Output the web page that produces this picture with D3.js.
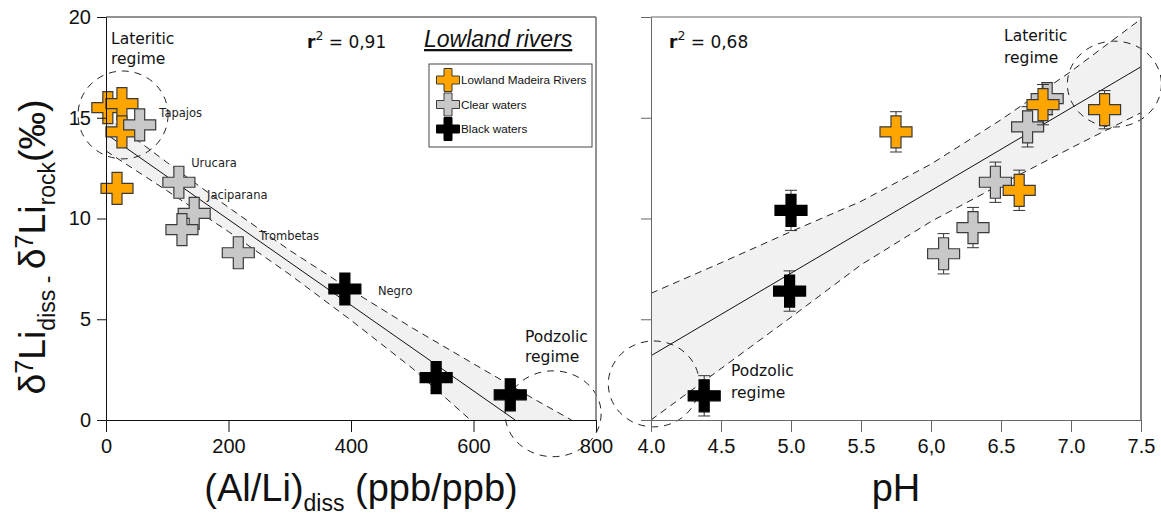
<!DOCTYPE html>
<html>
<head>
<meta charset="utf-8">
<script src="https://cdn.jsdelivr.net/npm/d3@7"></script>
<style>
  body { margin: 0; background: #fff; }
  svg { display: block; }
</style>
</head>
<body>
<svg id="chart" width="1161" height="518"></svg>
<script>
// ---- data: left panel, (Al/Li)diss vs d7Li ----
const alLiMadeira = [3, 26, 26, 18];
const d7LiMadeiraA = [15.5, 15.7, 14.3, 11.5];
const alLiClear = [55, 119, 144, 124, 216];
const d7LiClearA = [14.65, 11.8, 10.25, 9.45, 8.3];
const alLiBlack = [390, 539, 660];
const d7LiBlackA = [6.5, 2.1, 1.25];

// river names, placed in data units of the left panel
const riverNames = ["Tapajos", "Urucara", "Jaciparana", "Trombetas", "Negro"];
const riverNameX = [87, 139, 165, 250, 444];
const riverNameY = [15.05, 12.55, 10.95, 8.95, 6.2];

// regression line and confidence band (left)
const fitAX = [0, 668];
const fitAY = [14.2, 0];
const upperAX = [0, 100, 200, 300, 400, 500, 600, 700, 760];
const upperAY = [15.05, 12.77, 10.55, 8.42, 6.45, 4.57, 2.79, 1.02, 0];
const lowerAX = [0, 100, 200, 300, 400, 500, 595];
const lowerAY = [13.35, 11.37, 9.35, 7.22, 4.95, 2.57, 0];

// ---- data: right panel, pH vs d7Li ----
const phMadeira = [5.75, 6.80, 7.24, 6.63];
const d7LiMadeiraB = [14.3, 15.65, 15.4, 11.4];
const errMadeira = [1.0, 1.0, 0.95, 1.0];
const phClear = [6.83, 6.69, 6.46, 6.30, 6.09];
const d7LiClearB = [15.95, 14.55, 11.8, 9.55, 8.25];
const errClear = [0.8, 1.0, 1.0, 1.0, 1.0];
const phBlack = [5.0, 4.99, 4.38];
const d7LiBlackB = [10.4, 6.4, 1.2];
const errBlack = [1.0, 1.0, 1.0];

const fitBX = [4.0, 7.5];
const fitBY = [3.19, 17.53];
const upperBX = [4.0, 4.5, 5.0, 5.5, 6.0, 6.5, 7.0, 7.5];
const upperBY = [6.29, 7.8, 9.35, 10.85, 12.7, 14.9, 17.3, 19.9];
const lowerBX = [4.0, 4.5, 5.0, 5.5, 6.0, 6.5, 7.0, 7.5];
const lowerBY = [0, 2.55, 5.1, 7.7, 9.85, 11.7, 13.5, 15.25];

// ---- ticks ----
const yTicks = [0, 5, 10, 15, 20];
const alLiTicks = [0, 200, 400, 600, 800];
const phTicks = [4.0, 4.5, 5.0, 5.5, 6.0, 6.5, 7.0, 7.5];
const phTickLabels = ["4.0", "4.5", "5.0", "5.5", "6,0", "6.5", "7.0", "7.5"];

const groups = ["Lowland Madeira Rivers", "Clear waters", "Black waters"];
const groupFill = ["#ffa500", "#c8c8c8", "#000000"];
const groupStroke = ["#3a3a3a", "#3a3a3a", "#000000"];

const svg = d3.select("#chart");
svg.append("rect").attr("width", 1161).attr("height", 518).attr("fill", "#fff");

const sans = "'Liberation Sans', Arial, sans-serif";
const humanist = "'DejaVu Sans', sans-serif";

const y = d3.scaleLinear().domain([0, 20]).range([420, 17]);
const xA = d3.scaleLinear().domain([0, 800]).range([106, 596]);
const xB = d3.scaleLinear().domain([4.0, 7.5]).range([651, 1141]);

function crossPath(s, a) {
    const h = s / 2;
    return `M${-a},${-h}H${a}V${-a}H${h}V${a}H${a}V${h}H${-a}V${a}H${-h}V${-a}H${-a}Z`;
}

const zip = (xs, ys) => xs.map((v, i) => [v, ys[i]]);

// clip paths
const defs = svg.append("defs");
defs.append("clipPath").attr("id", "clipA").append("rect")
    .attr("x", xA(0)).attr("y", y(20)).attr("width", xA(800) - xA(0)).attr("height", y(0) - y(20));
defs.append("clipPath").attr("id", "clipB").append("rect")
    .attr("x", xB(4)).attr("y", y(20)).attr("width", xB(7.5) - xB(4)).attr("height", y(0) - y(20));

function drawBand(g, x, clip, ux, uy, lx, ly, fx, fy) {
    const line = d3.line().x(d => x(d[0])).y(d => y(d[1]));
    const up = zip(ux, uy), lo = zip(lx, ly);
    const band = g.append("g").attr("clip-path", `url(#${clip})`);
    band.append("path")
        .attr("d", line(up.concat(lo.slice().reverse())) + "Z")
        .attr("fill", "#f1f1f1");
    [up, lo].forEach(pts => band.append("path")
        .attr("d", line(pts))
        .attr("fill", "none")
        .attr("stroke", "#222")
        .attr("stroke-width", 1)
        .attr("stroke-dasharray", "7,5"));
    band.append("path")
        .attr("d", line(zip(fx, fy)))
        .attr("fill", "none")
        .attr("stroke", "#111")
        .attr("stroke-width", 1);
}

function drawEllipse(g, x, cx, cy, rx, ry) {
    g.append("ellipse")
        .attr("cx", x(cx)).attr("cy", y(cy))
        .attr("rx", Math.abs(x(cx + rx) - x(cx)))
        .attr("ry", Math.abs(y(cy + ry) - y(cy)))
        .attr("fill", "none")
        .attr("stroke", "#222")
        .attr("stroke-width", 1)
        .attr("stroke-dasharray", "7,6");
}

function drawCrosses(g, x, xs, ys, gi, size, arm) {
    g.selectAll(null)
        .data(zip(xs, ys))
        .enter()
        .append("path")
        .attr("d", crossPath(size, arm))
        .attr("transform", d => `translate(${x(d[0])},${y(d[1])})`)
        .attr("fill", groupFill[gi])
        .attr("stroke", groupStroke[gi])
        .attr("stroke-width", 1.2);
}

function drawErrors(g, x, xs, ys, es) {
    const eb = g.selectAll(null)
        .data(xs.map((v, i) => ({x: v, y: ys[i], e: es[i]})))
        .enter()
        .append("g")
        .attr("stroke", "#333")
        .attr("stroke-width", 1);
    eb.append("line")
        .attr("x1", d => x(d.x)).attr("x2", d => x(d.x))
        .attr("y1", d => y(d.y - d.e)).attr("y2", d => y(d.y + d.e));
    [-1, 1].forEach(sgn => eb.append("line")
        .attr("x1", d => x(d.x) - 6).attr("x2", d => x(d.x) + 6)
        .attr("y1", d => y(d.y + sgn * d.e)).attr("y2", d => y(d.y + sgn * d.e)));
}

function twoLines(g, x0, y0, l1, l2, size, gap) {
    const t = g.append("text")
        .attr("x", x0).attr("y", y0)
        .style("font-family", humanist)
        .style("font-size", size + "px")
        .attr("fill", "#111");
    t.append("tspan").attr("x", x0).text(l1);
    t.append("tspan").attr("x", x0).attr("dy", gap).text(l2);
}

function rSquared(g, x0, y0, val) {
    const t = g.append("text")
        .attr("x", x0).attr("y", y0)
        .style("font-family", humanist)
        .style("font-size", "17px")
        .attr("fill", "#111");
    t.append("tspan").style("font-weight", "bold").text("r");
    t.append("tspan").style("font-size", "12.5px").attr("dy", -8).text("2");
    t.append("tspan").attr("dy", 8).text(" = " + val);
}

// ================= left panel =================
const gA = svg.append("g");
drawBand(gA, xA, "clipA", upperAX, upperAY, lowerAX, lowerAY, fitAX, fitAY);
drawEllipse(gA, xA, 27.8, 15.14, 73.5, 2.18);
drawEllipse(gA, xA, 730, 0.31, 78.4, 2.13);

drawCrosses(gA, xA, alLiMadeira, d7LiMadeiraA, 0, 32, 5);
drawCrosses(gA, xA, alLiClear, d7LiClearA, 1, 32, 5);
drawCrosses(gA, xA, alLiBlack, d7LiBlackA, 2, 32, 5);

gA.selectAll(null)
    .data(riverNames)
    .enter()
    .append("text")
    .attr("x", (d, i) => xA(riverNameX[i]))
    .attr("y", (d, i) => y(riverNameY[i]))
    .style("font-family", humanist)
    .style("font-size", "11.5px")
    .attr("fill", "#222")
    .text(d => d);

// axes left
const axA_y = gA.append("g")
    .attr("transform", `translate(${xA(0)},0)`)
    .call(d3.axisLeft(y).tickValues(yTicks).tickSize(9).tickSizeOuter(0).tickPadding(6));
const axA_x = gA.append("g")
    .attr("transform", `translate(0,${y(0)})`)
    .call(d3.axisBottom(xA).tickValues(alLiTicks).tickSize(12).tickSizeOuter(0).tickPadding(6));
[axA_y, axA_x].forEach(a => {
    a.selectAll("text").style("font-family", sans).style("font-size", "20px").attr("fill", "#111");
    a.selectAll("line, path").attr("stroke", "#111");
});
axA_x.selectAll("text").attr("dy", "0.75em");
// frame top / right
gA.append("line").attr("x1", xA(0)).attr("x2", xA(800)).attr("y1", y(20)).attr("y2", y(20))
    .attr("stroke", "#222").attr("stroke-width", 1);
gA.append("line").attr("x1", xA(800)).attr("x2", xA(800)).attr("y1", y(20)).attr("y2", y(0))
    .attr("stroke", "#777").attr("stroke-width", 1.6);

twoLines(gA, 111, 44, "Lateritic", "regime", 15.5, 20);
twoLines(gA, 525, 342, "Podzolic", "regime", 15.5, 20);
rSquared(gA, 307, 48, "0,91");

gA.append("text")
    .attr("x", 424).attr("y", 47)
    .style("font-family", sans)
    .style("font-size", "23px")
    .style("font-style", "italic")
    .style("text-decoration", "underline")
    .attr("fill", "#111")
    .text("Lowland rivers");

// legend
const leg = gA.append("g");
leg.append("rect").attr("x", 429).attr("y", 64).attr("width", 163).attr("height", 83)
    .attr("fill", "#fff").attr("stroke", "#444").attr("stroke-width", 1);
groups.forEach((name, i) => {
    leg.append("path")
        .attr("d", crossPath(23, 4))
        .attr("transform", `translate(448,${80 + i * 24.5})`)
        .attr("fill", groupFill[i])
        .attr("stroke", groupStroke[i])
        .attr("stroke-width", 1);
    leg.append("text")
        .attr("x", 461).attr("y", 84 + i * 24.5)
        .style("font-family", sans)
        .style("font-size", "11.7px")
        .attr("fill", "#111")
        .text(name);
});

// axis titles
const xtA = gA.append("text")
    .attr("x", 361).attr("y", 501)
    .attr("text-anchor", "middle")
    .style("font-family", sans)
    .style("font-size", "38px")
    .attr("fill", "#111");
xtA.append("tspan").text("(Al/Li)");
xtA.append("tspan").style("font-size", "23px").attr("dy", 10).text("diss");
xtA.append("tspan").attr("dy", -10).text(" (ppb/ppb)");

const ytA = gA.append("text")
    .attr("transform", "translate(45,247) rotate(-90)")
    .attr("text-anchor", "middle")
    .style("font-family", sans)
    .style("font-size", "37.5px")
    .attr("fill", "#111");
ytA.append("tspan").text("δ");
ytA.append("tspan").style("font-size", "25px").attr("dy", -12).text("7");
ytA.append("tspan").attr("dy", 12).text("Li");
ytA.append("tspan").style("font-size", "23px").attr("dy", 10).text("diss - ");
ytA.append("tspan").attr("dy", -10).text("δ");
ytA.append("tspan").style("font-size", "25px").attr("dy", -12).text("7");
ytA.append("tspan").attr("dy", 12).text("Li");
ytA.append("tspan").style("font-size", "23px").attr("dy", 10).text("rock");
ytA.append("tspan").attr("dy", -10).text("(‰)");

// ================= right panel =================
const gB = svg.append("g");
drawBand(gB, xB, "clipB", upperBX, upperBY, lowerBX, lowerBY, fitBX, fitBY);
drawEllipse(gB, xB, 7.31, 16.67, 0.336, 2.13);
drawEllipse(gB, xB, 4.02, 1.79, 0.325, 2.13);

drawErrors(gB, xB, phClear, d7LiClearB, errClear);
drawCrosses(gB, xB, phClear, d7LiClearB, 1, 32, 5);
drawErrors(gB, xB, phMadeira, d7LiMadeiraB, errMadeira);
drawCrosses(gB, xB, phMadeira, d7LiMadeiraB, 0, 32, 5);
drawErrors(gB, xB, phBlack, d7LiBlackB, errBlack);
drawCrosses(gB, xB, phBlack, d7LiBlackB, 2, 32, 5);

const axB_y = gB.append("g")
    .attr("transform", `translate(${xB(4)},0)`)
    .call(d3.axisLeft(y).tickValues(yTicks).tickSize(10).tickSizeOuter(0).tickFormat(""));
const axB_x = gB.append("g")
    .attr("transform", `translate(0,${y(0)})`)
    .call(d3.axisBottom(xB).tickValues(phTicks).tickSize(12).tickSizeOuter(0).tickPadding(6)
        .tickFormat((d, i) => phTickLabels[i]));
[axB_y, axB_x].forEach(a => {
    a.selectAll("text").style("font-family", sans).style("font-size", "20px").attr("fill", "#111");
    a.selectAll("line, path").attr("stroke", "#666");
});
axB_x.selectAll("text").attr("dy", "0.75em");
gB.append("line").attr("x1", xB(4)).attr("x2", xB(7.5)).attr("y1", y(20)).attr("y2", y(20))
    .attr("stroke", "#666").attr("stroke-width", 1);
gB.append("line").attr("x1", xB(7.5)).attr("x2", xB(7.5)).attr("y1", y(20)).attr("y2", y(0))
    .attr("stroke", "#666").attr("stroke-width", 1.6);

twoLines(gB, 1004, 41, "Lateritic", "regime", 15.5, 22);
twoLines(gB, 731, 376, "Podzolic", "regime", 15.5, 22);
rSquared(gB, 669, 48, "0,68");

gB.append("text")
    .attr("x", 896).attr("y", 501)
    .attr("text-anchor", "middle")
    .style("font-family", sans)
    .style("font-size", "38px")
    .attr("fill", "#111")
    .text("pH");
</script>
</body>
</html>
